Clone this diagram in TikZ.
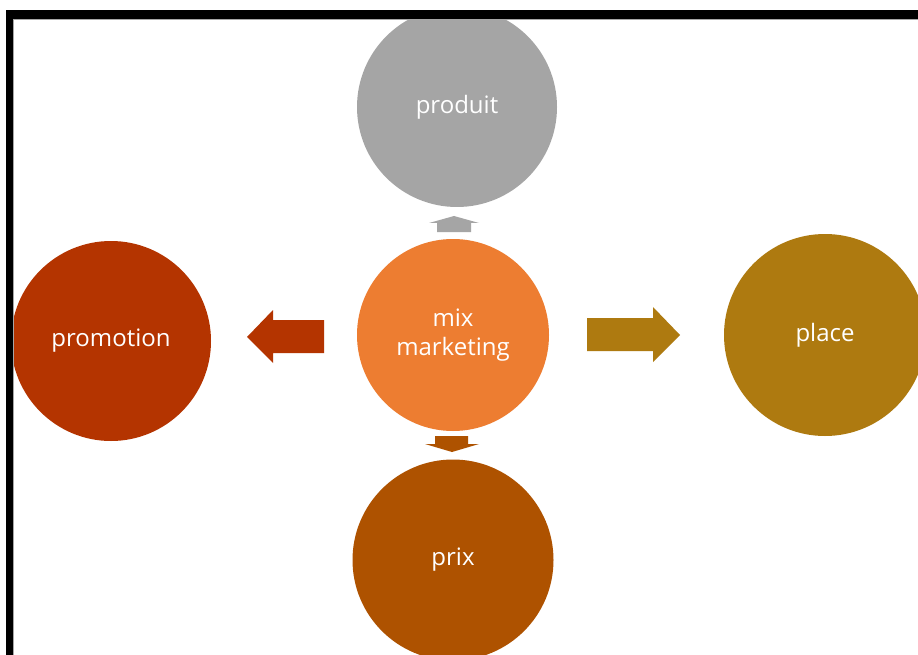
\documentclass[tikz,border=0pt]{standalone}
\usepackage{fontspec}
\setmainfont{Open Sans}
\definecolor{cgray}{HTML}{A5A5A5}
\definecolor{corange}{HTML}{ED7D31}
\definecolor{cpromo}{HTML}{B43400}
\definecolor{cplace}{HTML}{AE7A10}
\definecolor{cprix}{HTML}{AE5200}
\begin{document}
\begin{tikzpicture}[x=1pt,y=-1pt,
  bubble/.style={circle,inner sep=0pt,minimum size=#1,text=white,
    font=\fontsize{24}{29}\selectfont,align=center}]
\useasboundingbox (0,0) rectangle (918,655);
\fill[white] (0,0) rectangle (918,655);
\begin{scope}
  \clip (13,19) rectangle (918,655);
  \node[bubble=200pt,fill=cgray]   (produit) at (457,107) {produit};
  \node[bubble=192pt,fill=corange] (mix)     at (453,335) {mix\\marketing};
  \node[bubble=200pt,fill=cpromo]  (promo)   at (111,341) {promotion};
  \node[bubble=202pt,fill=cplace]  (place)   at (825,335) {place};
  \node[bubble=201pt,fill=cprix]   (prix)    at (453,560) {prix};
\end{scope}
% block arrows from the centre towards each outer circle
\fill[cgray]  (437,232) -- (437,223) -- (429,223) -- (454,216) -- (479,223)
  -- (471,223) -- (471,232) -- cycle;
\fill[cprix]  (435,436) -- (468,436) -- (468,444) -- (479,444) -- (452,452)
  -- (425,444) -- (435,444) -- cycle;
\fill[cpromo] (324,320) -- (273,320) -- (273,310) -- (247,337) -- (273,363)
  -- (273,353) -- (324,353) -- cycle;
\fill[cplace] (587,318) -- (653,318) -- (653,307) -- (680,335) -- (653,362)
  -- (653,351) -- (587,351) -- cycle;
% frame
\fill[black] (6,10) rectangle (918,19);
\fill[black] (6,10) rectangle (13,655);
\draw[gray!70,line width=1pt] (13,19.5) -- (918,19.5);
\draw[gray!70,line width=1pt] (13.5,19) -- (13.5,655);
\end{tikzpicture}
\end{document}
